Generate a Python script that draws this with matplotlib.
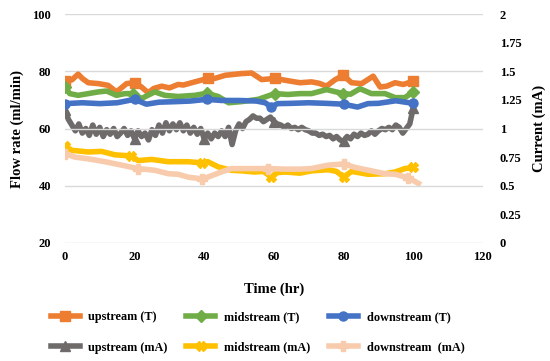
import numpy as np
import matplotlib
matplotlib.use("Agg")
import matplotlib.pyplot as plt

plt.rcParams['font.family'] = ['Liberation Serif', 'DejaVu Serif']
plt.rcParams['font.weight'] = 'bold'

# ---- data (flow rate, ml/min; left axis) ----
up_T_x = [0, 2, 3.8, 5, 6.7, 9.6, 12.4, 14.8, 17.7, 20, 22, 23.9, 25.5, 27.8, 30, 32.5, 34, 37.3, 41, 43,
          46, 50.7, 53.6, 56.5, 60.3, 64, 67.5, 70.8, 73, 75.1, 77.5, 79.9, 82.3, 85.2, 88.5, 90.5, 92.4,
          94.8, 97.1, 100]
up_T_y = [76.5, 77, 79, 77.5, 76, 75.7, 75.1, 72.8, 75.7, 76, 74.5, 72.5, 74, 74.8, 74.2, 75.4, 75.2, 76.3,
          77.5, 77.5, 78.6, 79.2, 79.4, 77.1, 77.5, 76.7, 76, 76.3, 75.8, 74.8, 77, 78.6, 76, 75.7, 78.3,
          74.5, 74.8, 76, 75.4, 76.5]

mid_T_x = [0, 1.4, 3.8, 6.7, 9.6, 12, 14.8, 17.2, 19.6, 22, 25.8, 28.7, 32.5, 37.3, 40.7, 44, 47, 50.7,
           55.5, 60.3, 64, 67.5, 70.8, 75.1, 79.9, 82, 84.7, 88, 91.9, 94.8, 97.6, 100]
mid_T_y = [74.5, 72.2, 71.6, 72.2, 72.8, 73.1, 71.6, 72.2, 72.2, 70.5, 72.8, 71.6, 71.2, 71.6, 72.3, 71.2,
           69, 69.4, 70.2, 72.2, 71.9, 72.2, 72.2, 73.6, 72.2, 72, 73.9, 72.2, 72.2, 70.8, 70.8, 72.8]

down_T_x = [0, 5, 10, 15, 20, 23.4, 27, 32, 36, 40.7, 45, 50, 55, 57.5, 59.3, 61, 65, 70, 75, 80, 84, 87,
            90, 95, 100]
down_T_y = [68.7, 69, 68.7, 69, 70.2, 68.5, 69.2, 69.4, 69.6, 70.2, 69.8, 69.8, 69.6, 69, 67.5, 68.7, 68.8,
            69, 68.8, 68.5, 67.5, 68.7, 68.8, 69.7, 68.8]

# ---- data (current, mA; right axis) ----
up_mA_x = list(range(0, 101))
up_mA_y = [1.16, 1.08, 1.03, 0.98, 1.04, 0.96, 1.00, 0.94, 1.03, 0.95, 1.01, 0.93, 0.99, 0.95, 1.00, 0.93,
           0.96, 1.00, 0.94, 0.98, 0.91, 0.98, 0.93, 0.96, 0.90, 0.99, 0.94, 1.03, 0.96, 1.05, 0.98, 1.04,
           0.99, 1.05, 0.98, 1.03, 0.96, 1.01, 0.95, 1.00, 0.91, 0.96, 0.91, 0.96, 0.93, 0.98, 0.93, 1.01,
           0.86, 0.98, 1.04, 1.00, 1.06, 1.08, 1.11, 1.09, 1.09, 1.06, 1.08, 1.10, 1.06, 1.04, 1.03, 1.01,
           1.03, 1.00, 1.01, 0.99, 1.01, 0.99, 0.98, 0.96, 0.96, 0.94, 0.95, 0.93, 0.94, 0.91, 0.93, 0.90,
           0.89, 0.93, 0.91, 0.95, 0.93, 0.96, 0.94, 0.95, 0.98, 0.95, 0.98, 1.00, 0.99, 1.01, 0.99, 1.03,
           1.01, 0.96, 1.00, 1.04, 1.18]

mid_mA_x = [0, 1.9, 6.7, 10.5, 14.4, 19.1, 21, 24.9, 29.7, 32.5, 35.4, 39.3, 41, 44, 47.8, 50.7, 54.5, 57,
            59.3, 61, 63.2, 67.5, 70.8, 75.6, 78, 80, 82.3, 87.1, 91.9, 94.8, 97.6, 100]
mid_mA_y = [0.85, 0.81, 0.795, 0.80, 0.77, 0.76, 0.72, 0.73, 0.71, 0.71, 0.71, 0.70, 0.71, 0.665, 0.635,
            0.63, 0.62, 0.625, 0.575, 0.615, 0.62, 0.61, 0.63, 0.64, 0.625, 0.575, 0.625, 0.60, 0.605,
            0.62, 0.65, 0.66]

down_mA_x = [0, 2.9, 6.7, 11.5, 16.3, 21, 25.8, 29.7, 32.5, 35.4, 39.3, 41, 44.9, 47.8, 52.6, 58.4, 63.2,
             67.5, 70.8, 75.6, 80, 83.3, 88, 91.9, 94.8, 98.6, 101.5]
down_mA_y = [0.78, 0.75, 0.735, 0.71, 0.68, 0.65, 0.635, 0.605, 0.60, 0.575, 0.56, 0.575, 0.62, 0.65, 0.65,
             0.65, 0.645, 0.645, 0.65, 0.68, 0.69, 0.66, 0.63, 0.605, 0.60, 0.57, 0.52]

labels = ['upstream (T)', 'midstream (T)', 'downstream (T)',
          'upstream (mA)', 'midstream (mA)', 'downstream  (mA)']
colors = ['#ED7D31', '#70AD47', '#4472C4', '#6F6B6B', '#FFC000', '#F8CBAD']
markers = ['s', 'D', 'o', '^', 'X', 'P']

xticks = [0, 20, 40, 60, 80, 100, 120]
yticks_left = [20, 40, 60, 80, 100]
yticks_right = [0, 0.25, 0.5, 0.75, 1, 1.25, 1.5, 1.75, 2]
ytick_right_labels = ['0', '0.25', '0.5', '0.75', '1', '1.25', '1.5', '1.75', '2']


def mark_idx(xs):
    xs = np.asarray(xs)
    return sorted(set(int(np.argmin(np.abs(xs - t))) for t in [0, 20, 40, 60, 80, 100]))


fig = plt.figure(figsize=(5.5, 3.61), dpi=100)
ax = fig.add_axes([0.118, 0.327, 0.76, 0.634])
ax2 = ax.twinx()

lw = 4.0
ms = 6.5
handles = []
series_left = [(up_T_x, up_T_y), (mid_T_x, mid_T_y), (down_T_x, down_T_y)]
series_right = [(up_mA_x, up_mA_y), (mid_mA_x, mid_mA_y), (down_mA_x, down_mA_y)]

for i, (xs, ys) in enumerate(series_right):
    k = i + 3
    h, = ax2.plot(xs, ys, color=colors[k], lw=lw, marker=markers[k], ms=ms,
                  markevery=mark_idx(xs), markeredgecolor=colors[k], label=labels[k], zorder=2,
                  solid_joinstyle='round')
    handles.append(h)
for i, (xs, ys) in enumerate(series_left):
    h, = ax.plot(xs, ys, color=colors[i], lw=lw, marker=markers[i], ms=ms,
                 markevery=mark_idx(xs), markeredgecolor=colors[i], label=labels[i], zorder=3,
                 solid_joinstyle='round')
    handles.insert(i, h)

ax.set_zorder(ax2.get_zorder() + 1)
ax.patch.set_visible(False)

ax.set_xlim(0, 120)
ax.set_ylim(20, 100)
ax2.set_ylim(0, 2)
ax.set_xticks(xticks)
ax.set_yticks(yticks_left)
ax2.set_yticks(yticks_right)
ax2.set_yticklabels(ytick_right_labels)

ax.grid(axis='y', color='#D9D9D9', lw=1)
ax.set_axisbelow(True)
for a in (ax, ax2):
    for s in a.spines.values():
        s.set_visible(False)
    a.tick_params(length=0, labelsize=9)
ax.tick_params(axis='x', pad=6)
ax.tick_params(axis='y', pad=10)
ax2.tick_params(axis='y', pad=12)
for t in ax.get_xticklabels() + ax.get_yticklabels() + ax2.get_yticklabels():
    t.set_fontweight('bold')

ax.set_xlabel('Time (hr)', fontsize=10.5, fontweight='bold', labelpad=14)
ax.set_ylabel('Flow rate (ml/min)', fontsize=10.5, fontweight='bold', labelpad=6)
ax2.set_ylabel('Current (mA)', fontsize=10.5, fontweight='bold', labelpad=8)

order = [0, 3, 1, 4, 2, 5]
fig.legend([handles[j] for j in order], [labels[j] for j in order],
           loc='center', bbox_to_anchor=(0.468, 0.079), ncol=3, frameon=False,
           handlelength=2.4, handletextpad=0.7, columnspacing=1.5, labelspacing=1.5,
           prop={'weight': 'bold', 'size': 8.8})

fig.savefig('out.png', dpi=100)
